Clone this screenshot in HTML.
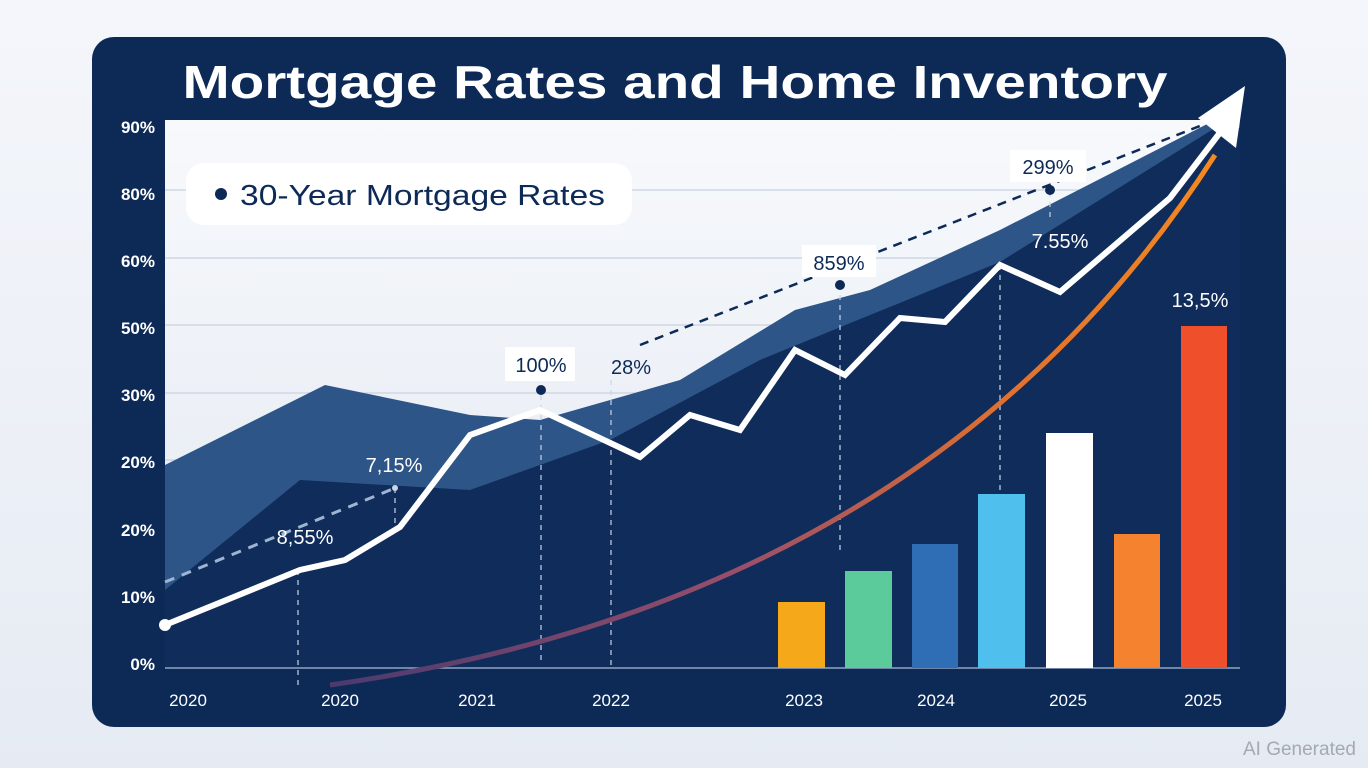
<!DOCTYPE html>
<html><head><meta charset="utf-8"><style>
html,body{margin:0;padding:0;width:1368px;height:768px;overflow:hidden;background:#edf1f7;}
svg{display:block;font-family:"Liberation Sans",sans-serif;}
</style></head><body>
<svg width="1368" height="768" viewBox="0 0 1368 768">
<defs>
<linearGradient id="bg" x1="0" y1="0" x2="0" y2="1"><stop offset="0" stop-color="#f4f6fb"/><stop offset="1" stop-color="#e6ebf3"/></linearGradient>
<linearGradient id="pl" x1="0" y1="0" x2="0" y2="1"><stop offset="0" stop-color="#f7f9fc"/><stop offset="1" stop-color="#e3e9f2"/></linearGradient>
<linearGradient id="or" x1="330" y1="685" x2="1215" y2="155" gradientUnits="userSpaceOnUse"><stop offset="0" stop-color="#4a3a6e"/><stop offset="0.4" stop-color="#9a4f6a"/><stop offset="0.7" stop-color="#e0702e"/><stop offset="1" stop-color="#f58a1f"/></linearGradient>
</defs>
<rect width="1368" height="768" fill="url(#bg)"/>
<rect x="92" y="37" width="1194" height="690" rx="22" fill="#0d2a57"/>
<rect x="165" y="120" width="1075" height="548" fill="url(#pl)"/>
<g stroke="#c9d2e0" stroke-width="1.2">
<line x1="165" y1="190" x2="1240" y2="190"/><line x1="165" y1="258" x2="1240" y2="258"/><line x1="165" y1="325" x2="1240" y2="325"/><line x1="165" y1="393" x2="1240" y2="393"/><line x1="165" y1="460" x2="1240" y2="460"/><line x1="165" y1="528" x2="1240" y2="528"/><line x1="165" y1="595" x2="1240" y2="595"/>
</g>
<polygon points="165,465 325,385 470,415 540,420 680,380 795,310 870,290 1000,230 1215,120 1240,120 1240,668 165,668" fill="#2d5587"/>
<polygon points="165,590 300,480 470,490 610,440 760,360 1000,262 1215,128 1240,128 1240,668 165,668" fill="#0f2c5a"/>
<rect x="165" y="595" width="1075" height="73" fill="#0f2c5a"/>
<line x1="165" y1="668" x2="1240" y2="668" stroke="#8fa3c2" stroke-width="1.5"/>
<g stroke="#c9d4e6" stroke-width="1.2" stroke-dasharray="5,5">
<line x1="298" y1="570" x2="298" y2="690"/><line x1="395" y1="488" x2="395" y2="527"/><line x1="541" y1="395" x2="541" y2="660"/><line x1="611" y1="380" x2="611" y2="668"/><line x1="840" y1="285" x2="840" y2="550"/><line x1="1000" y1="265" x2="1000" y2="500"/><line x1="1050" y1="192" x2="1050" y2="218"/>
</g>
<line x1="165" y1="582" x2="395" y2="488" stroke="#9fb4d3" stroke-width="3" stroke-dasharray="10,8"/>
<line x1="640" y1="345" x2="1205" y2="124" stroke="#0d2a57" stroke-width="2.5" stroke-dasharray="9,7"/>
<rect x="778" y="602" width="47" height="66" fill="#f5a91a"/>
<rect x="845" y="571" width="47" height="97" fill="#5ccb9b"/>
<rect x="912" y="544" width="46" height="124" fill="#2f6db5"/>
<rect x="978" y="494" width="47" height="174" fill="#4fc0ee"/>
<rect x="1046" y="433" width="47" height="235" fill="#ffffff"/>
<rect x="1114" y="534" width="46" height="134" fill="#f5822f"/>
<rect x="1181" y="326" width="46" height="342" fill="#ef4f2a"/>
<path d="M330 685 Q 930 600 1215 155" fill="none" stroke="url(#or)" stroke-width="5"/>
<polyline points="165,625 300,570 345,560 400,527 470,435 540,410 640,457 690,415 740,430 795,350 845,375 900,318 945,322 1000,265 1060,292 1170,198 1222,130" fill="none" stroke="#fff" stroke-width="6" stroke-linejoin="miter"/>
<polygon points="1245,86 1198,118 1236,148" fill="#fff"/>
<circle cx="165" cy="625" r="6" fill="#fff"/>
<circle cx="541" cy="390" r="5" fill="#0d2a57"/><circle cx="840" cy="285" r="5" fill="#0d2a57"/><circle cx="1050" cy="190" r="5" fill="#0d2a57"/><circle cx="395" cy="488" r="3" fill="#c9d4e6"/>
<text x="675" y="98" text-anchor="middle" font-size="46" font-weight="bold" fill="#fff" textLength="985" lengthAdjust="spacingAndGlyphs">Mortgage Rates and Home Inventory</text>
<g font-size="17" font-weight="bold" fill="#fff" text-anchor="end">
<text x="155" y="133">90%</text><text x="155" y="200">80%</text><text x="155" y="267">60%</text><text x="155" y="334">50%</text><text x="155" y="401">30%</text><text x="155" y="468">20%</text><text x="155" y="536">20%</text><text x="155" y="603">10%</text><text x="155" y="670">0%</text>
</g>
<g font-size="17" fill="#fff" text-anchor="middle">
<text x="188" y="706">2020</text><text x="340" y="706">2020</text><text x="477" y="706">2021</text><text x="611" y="706">2022</text><text x="804" y="706">2023</text><text x="936" y="706">2024</text><text x="1068" y="706">2025</text><text x="1203" y="706">2025</text>
</g>
<rect x="186" y="163" width="446" height="62" rx="18" fill="#fff"/>
<circle cx="221" cy="194" r="6" fill="#0d2a57"/>
<text x="240" y="205" font-size="29" fill="#0d2a57" textLength="365" lengthAdjust="spacingAndGlyphs">30-Year Mortgage Rates</text>
<g font-size="20" text-anchor="middle">
<text x="305" y="544" fill="#fff">8,55%</text>
<text x="394" y="472" fill="#fff">7,15%</text>
<rect x="505" y="347" width="70" height="34" fill="#fff"/><text x="541" y="372" fill="#0d2a57">100%</text>
<text x="631" y="374" fill="#0d2a57">28%</text>
<rect x="802" y="245" width="74" height="32" fill="#fff"/><text x="839" y="270" fill="#0d2a57">859%</text>
<rect x="1010" y="150" width="76" height="32" fill="#fff"/><text x="1048" y="174" fill="#0d2a57">299%</text>
<text x="1060" y="248" fill="#fff">7.55%</text>
<text x="1200" y="307" fill="#fff">13,5%</text>
</g>
<text x="1356" y="755" text-anchor="end" font-size="19" fill="#a4a9b2">AI Generated</text>
</svg>
</body></html>
